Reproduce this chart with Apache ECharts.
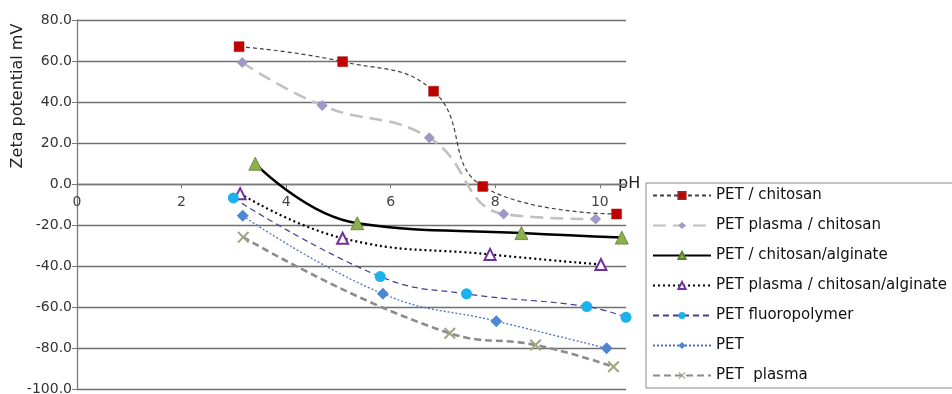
<!DOCTYPE html>
<html><head><meta charset="utf-8">
<script src="https://cdn.jsdelivr.net/npm/echarts@6/dist/echarts.min.js"></script>
<style>html,body{margin:0;padding:0;background:#fff}#c{width:952px;height:394px}</style>
</head><body><div id="c"></div>
<script>
const seriesNames = ["PET / chitosan", "PET plasma / chitosan", "PET / chitosan/alginate", "PET plasma / chitosan/alginate", "PET fluoropolymer", "PET", "PET  plasma"];
const petChitosan = [[3.10, 67], [5.08, 59.7], [6.82, 45.3], [7.76, -1.1], [10.32, -14.5]];
const petPlasmaChitosan = [[3.16, 59.3], [4.69, 38.3], [6.74, 22.6], [8.16, -14.5], [9.92, -17]];
const petChitosanAlginate = [[3.41, 10], [5.36, -19], [8.50, -23.8], [10.42, -26]];
const petPlasmaChitosanAlginate = [[3.12, -4.6], [5.08, -26.3], [7.90, -34.2], [10.02, -39.1]];
const petFluoropolymer = [[2.99, -6.7], [5.80, -45], [7.45, -53.4], [9.75, -59.6], [10.5, -64.8]];
const pet = [[3.17, -15.4], [5.85, -53.4], [8.02, -66.7], [10.13, -79.9]];
const petPlasma = [[3.18, -25.8], [7.13, -72.6], [8.77, -78.3], [10.26, -88.9]];
const xTicks = [0, 2, 4, 6, 8, 10];

const font = 'DejaVu Sans, sans-serif';
const xSym = 'path://M1.2,0 L5,3.8 L8.8,0 L10,1.2 L6.2,5 L10,8.8 L8.8,10 L5,6.2 L1.2,10 L0,8.8 L3.8,5 L0,1.2 Z';

const gridTop = 20, gridBottom = 4.5, H = 394;
const yMin = -100, yMax = 80;
const zeroOffset = -((H - gridBottom - gridTop) * (0 - yMin) / (yMax - yMin));

const chart = echarts.init(document.getElementById('c'));
function mk(name, data, line, sym, size, item, smooth) {
  return { name, type: 'line', data, smooth: smooth === undefined ? 0.45 : smooth,
    symbol: sym, symbolSize: size, lineStyle: line, itemStyle: item, z: 3 };
}
chart.setOption({
  animation: false,
  grid: { left: 77, right: 326, top: gridTop, bottom: gridBottom, outerBoundsMode: 'none', containLabel: false },
  xAxis: {
    type: 'value', min: 0, max: 10.5, interval: 2, position: 'bottom', offset: zeroOffset,
    name: 'pH', nameLocation: 'end', nameGap: -8,
    nameTextStyle: { fontFamily: font, fontSize: 16, color: '#222', verticalAlign: 'middle', align: 'left' },
    axisLine: { onZero: false, lineStyle: { color: '#7a7a7a', width: 1.3 } },
    axisTick: { show: true, length: 4, customValues: xTicks, lineStyle: { color: '#7a7a7a' } },
    axisLabel: { show: true, customValues: xTicks, hideOverlap: false, fontFamily: font, fontSize: 14, color: '#444', margin: 11 },
    splitLine: { show: false }
  },
  yAxis: {
    type: 'value', min: yMin, max: yMax, interval: 20,
    axisLine: { show: true, lineStyle: { color: '#7a7a7a', width: 1.3 } },
    axisTick: { show: true, length: 5, inside: false, lineStyle: { color: '#7a7a7a' } },
    axisLabel: { fontFamily: font, fontSize: 14, color: '#333', margin: 5, formatter: v => v.toFixed(1) },
    splitLine: { show: true, lineStyle: { color: '#707070', width: 1.4 } }
  },
  graphic: [{
    type: 'text', x: 18, y: 96, rotation: Math.PI / 2,
    style: { text: 'Zeta potential mV', font: '16px ' + font, fill: '#222', align: 'center', verticalAlign: 'middle' }
  }],
  legend: {
    orient: 'vertical', left: 646, top: 183, padding: [5, 6, 5, 6],
    itemWidth: 58, itemHeight: 9, itemGap: 15,
    backgroundColor: '#fff', borderColor: '#888', borderWidth: 1,
    textStyle: { fontFamily: font, fontSize: 15, color: '#111' },
    data: seriesNames
  },
  series: [
    mk(seriesNames[0], petChitosan, { color: '#404040', width: 1.2, type: [4, 3] }, 'rect', 10, { color: '#c00000', borderColor: '#a02020', borderWidth: 0.5 }),
    mk(seriesNames[1], petPlasmaChitosan, { color: '#c0c0c0', width: 2.6, type: [13, 7] }, 'diamond', 11, { color: '#9e9ac8' }),
    mk(seriesNames[2], petChitosanAlginate, { color: '#000', width: 2.5, type: 'solid' }, 'triangle', 13, { color: '#8db04e', borderColor: '#5f7f2e', borderWidth: 0.8 }),
    mk(seriesNames[3], petPlasmaChitosanAlginate, { color: '#000', width: 2.2, type: [2, 3] }, 'triangle', 11, { color: '#fff', borderColor: '#7030a0', borderWidth: 2 }),
    mk(seriesNames[4], petFluoropolymer, { color: '#3f3f8f', width: 1.2, type: [6, 4] }, 'circle', 11, { color: '#1cb2ec' }),
    mk(seriesNames[5], pet, { color: '#4a72c4', width: 1.3, type: [2, 2] }, 'diamond', 12, { color: '#4f86d0' }),
    mk(seriesNames[6], petPlasma, { color: '#8c8c8c', width: 2.6, type: [7, 4] }, xSym, 12, { color: '#a3a383' })
  ]
});
</script>
</body></html>
